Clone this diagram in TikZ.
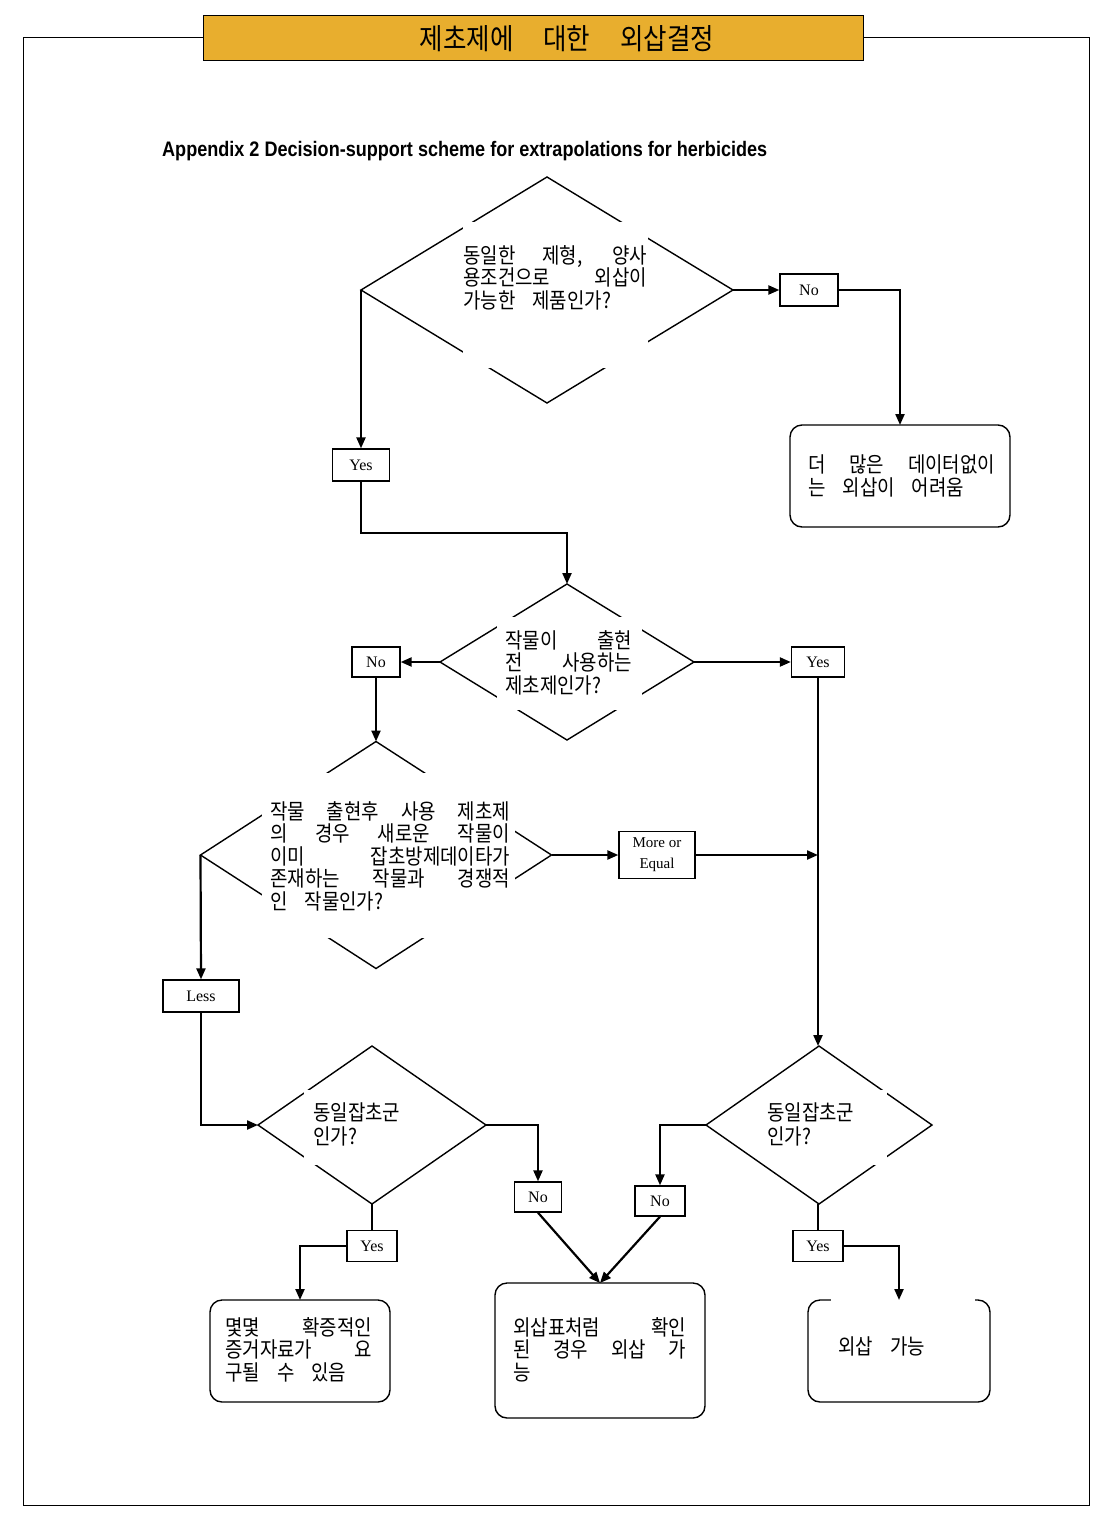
\documentclass[tikz,border=0pt]{standalone}
\usepackage{fontspec}
\usepackage{graphicx}
\usetikzlibrary{arrows.meta,shapes.geometric}
\setmainfont{Liberation Serif}
\newfontfamily\kr[FakeStretch=0.88]{Noto Sans CJK KR}
\newfontfamily\arialf{Liberation Sans}
\newcommand\jl[2]{\makebox[#1][s]{#2}}
\newcommand\krbody{\kr\fontsize{21.5}{22.6}\selectfont\spaceskip=17pt plus 30pt\relax}
\newcommand\krshort{\kr\fontsize{21.5}{24}\selectfont\spaceskip=17pt plus 30pt\relax}
\newcommand\krtitle{\kr\fontsize{29}{30}\selectfont\spaceskip=30pt\relax}
\definecolor{titleorange}{RGB}{232,174,46}
\begin{document}
\begin{tikzpicture}[x=1pt,y=-1pt,
  lbl/.style={draw, line width=1.3pt, inner sep=0pt, font=\fontsize{16}{17}\selectfont, align=center},
  dia/.style={diamond, draw, line width=1.4pt, inner sep=0pt, outer sep=0pt},
  term/.style={draw, line width=1.4pt, rounded corners=12pt, inner sep=0pt, outer sep=0pt},
  conn/.style={line width=2.2pt, -{Triangle[length=11pt,width=9pt]}},
  plainc/.style={line width=2.2pt},
  ktxt/.style={font=\krbody, align=left, inner sep=0pt, anchor=north west},
  blank/.style={fill=white, draw=none}
]
\useasboundingbox (0,0) rectangle (1103,1518);
% frame
\draw[line width=0.8pt] (23,37) rectangle (1089,1505);
% title
\node[draw, line width=0.8pt, fill=titleorange, minimum width=660pt, minimum height=45pt, inner sep=0pt] (title) at (533,37.5) {};
\node[inner sep=0pt, font=\krtitle] (titletext) at (567,39) {제초제에 대한 외삽결정};
% heading
\node[anchor=west, inner sep=0pt, font=\arialf\bfseries\fontsize{21}{23}\selectfont] (heading) at (162,151) {\resizebox{605pt}{\height}{Appendix 2 Decision-support scheme for extrapolations for herbicides}};

% diamonds
\node[dia, minimum width=372pt, minimum height=226pt] (d1) at (547,290) {};
\node[dia, minimum width=254pt, minimum height=156pt] (d2) at (567,662) {};
\node[dia, minimum width=351pt, minimum height=227pt] (d3) at (376,855) {};
\node[dia, minimum width=228pt, minimum height=158pt] (d4) at (372,1125) {};
\node[dia, minimum width=226pt, minimum height=158pt] (d5) at (819,1125) {};

% white text patches
\fill[blank] (463,222) rectangle (648,368);
\fill[blank] (497,617) rectangle (642,710);
\fill[blank] (262,773) rectangle (515,938);
\fill[blank] (304,1090) rectangle (425,1165);
\fill[blank] (765,1090) rectangle (887,1165);

% diamond texts
\node[ktxt] (d1t) at (463,245) {\jl{184pt}{동일한 제형, 양사}\\\jl{184pt}{용조건으로 외삽이}\\가능한 제품인가?};
\node[ktxt] (d2t) at (505,630) {\jl{127pt}{작물이 출현}\\\jl{127pt}{전 사용하는}\\제초제인가?};
\node[ktxt] (d3t) at (270,801) {\jl{240pt}{작물 출현후 사용 제초제}\\\jl{240pt}{의 경우 새로운 작물이}\\\jl{240pt}{이미 잡초방제데이타가}\\\jl{240pt}{존재하는 작물과 경쟁적}\\인 작물인가?};
\node[ktxt, font=\krshort] (d4t) at (313,1103) {동일잡초군\\인가?};
\node[ktxt, font=\krshort] (d5t) at (767,1103) {동일잡초군\\인가?};

% terminals
\node[term, minimum width=220pt, minimum height=102pt] (t1) at (900,476) {};
\node[term, minimum width=180pt, minimum height=102pt] (t2) at (300,1351) {};
\node[term, minimum width=210pt, minimum height=135pt] (t3) at (600,1350.5) {};
\node[term, minimum width=182pt, minimum height=102pt] (t4) at (899,1351) {};
\fill[blank] (831,1295) rectangle (975,1305);

\node[ktxt] (t1t) at (808,455) {\jl{187pt}{더 많은 데이터없이}\\는 외삽이 어려움};
\node[ktxt] (t2t) at (225,1317) {\jl{147pt}{몇몇 확증적인}\\\jl{147pt}{증거자료가 요}\\구될 수 있음};
\node[ktxt] (t3t) at (513,1317) {\jl{173pt}{외삽표처럼 확인}\\\jl{173pt}{된 경우 외삽 가}\\능};
\node[ktxt] (t4t) at (838,1337) {외삽 가능};

% label boxes
\node[lbl, minimum width=58pt, minimum height=32pt] (no1) at (809,290) {No};
\node[lbl, minimum width=57pt, minimum height=32pt] (yes1) at (361,465) {Yes};
\node[lbl, minimum width=48pt, minimum height=30pt] (no2) at (376,662) {No};
\node[lbl, minimum width=53pt, minimum height=30pt] (yes2) at (818,662) {Yes};
\node[lbl, minimum width=76pt, minimum height=47pt, font=\fontsize{15}{21}\selectfont] (moe) at (657,855) {More or\\Equal};
\node[lbl, minimum width=76pt, minimum height=32pt] (less) at (201,996) {Less};
\node[lbl, minimum width=47pt, minimum height=30pt] (no3) at (538,1197) {No};
\node[lbl, minimum width=50pt, minimum height=30pt] (no4) at (660,1201) {No};
\node[lbl, minimum width=50pt, minimum height=31pt] (yes3) at (372,1246) {Yes};
\node[lbl, minimum width=50pt, minimum height=31pt] (yes4) at (818,1246) {Yes};
\coordinate (mj) at (818,855);

% connectors
\draw[conn] (d1.east) -- (no1.west);
\draw[conn] (no1.east) -| (t1.north);
\draw[conn] (d1.west) -- (yes1.north);
\draw[conn] (yes1.south) -- ++(0,51) -| (d2.north);
\draw[conn] (d2.west) -- (no2.east);
\draw[conn] (d2.east) -- (yes2.west);
\draw[conn] (no2.south) -- (d3.north);
\draw[conn] (d3.east) -- (moe.west);
\draw[conn] (moe.east) -- (mj);
\draw[conn] (yes2.south) -- (yes2.south |- d5.north);
\draw[conn] (d3.west) -- (less.north);
\draw[conn] (less.south) |- (d4.west);
\draw[conn] (d4.east) -| (no3.north);
\draw[conn] (d5.west) -| (no4.north);
\draw[conn] (no3.south) -- (t3.north);
\draw[conn] (no4.south) -- (t3.north);
\draw[plainc] (d4.south) -- (yes3.north);
\draw[conn] (yes3.west) -| (t2.north);
\draw[plainc] (d5.south -| yes4.north) -- (yes4.north);
\draw[conn] (yes4.east) -| (t4.north);
\end{tikzpicture}
\end{document}
